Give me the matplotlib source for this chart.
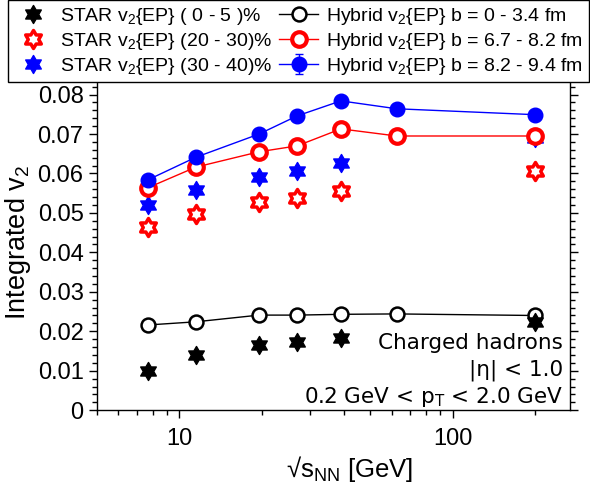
import numpy as np
import matplotlib
matplotlib.use("Agg")
import matplotlib.pyplot as plt
from matplotlib.path import Path

plt.rcParams['font.family'] = ['Liberation Sans', 'DejaVu Sans']
plt.rcParams['mathtext.fontset'] = 'custom'
plt.rcParams['mathtext.rm'] = 'Liberation Sans'
plt.rcParams['mathtext.it'] = 'Liberation Sans'

# --- data ---
energy_star = [7.7, 11.5, 19.6, 27, 39, 200]
energy_hyb = [7.7, 11.5, 19.6, 27, 39, 62.4, 200]

star_0_5 = [0.0100, 0.0141, 0.0164, 0.0174, 0.0182, 0.0224]
star_20_30 = [0.0464, 0.0497, 0.0527, 0.0537, 0.0555, 0.0607]
star_30_40 = [0.0520, 0.0558, 0.0590, 0.0607, 0.0626, 0.0690]

hyb_b0 = [0.0216, 0.0224, 0.0241, 0.0241, 0.0243, 0.0244, 0.0240]
hyb_b67 = [0.0564, 0.0616, 0.0655, 0.0670, 0.0713, 0.0695, 0.0695]
hyb_b82 = [0.0584, 0.0641, 0.0700, 0.0746, 0.0784, 0.0764, 0.0749]
hyb_b82_err = [0, 0, 0, 0, 0, 0, 0.0012]

# six-pointed star marker (hexagram)
ang = np.pi / 2 + np.arange(12) * np.pi / 6
rad = np.where(np.arange(12) % 2 == 0, 1.0, 0.58)
verts = np.column_stack([rad * np.cos(ang), rad * np.sin(ang)])
verts = np.vstack([verts, verts[:1]])
hexagram = Path(verts, closed=True)

fig = plt.figure(figsize=(5.9, 4.86), dpi=100)
ax = fig.add_axes([0.164, 0.156, 0.802, 0.69])

# STAR data
s1, = ax.plot(energy_star, star_0_5, ls='none', marker=hexagram, ms=13, color='black',
              mfc='black', mew=1, zorder=4)
s2, = ax.plot(energy_star, star_20_30, ls='none', marker=hexagram, ms=13, color='red',
              mfc='white', mew=2.5, zorder=4)
s3, = ax.plot(energy_star, star_30_40, ls='none', marker=hexagram, ms=13, color='blue',
              mfc='blue', mew=1, zorder=2)

# hybrid model curves
h1, = ax.plot(energy_hyb, hyb_b0, '-o', color='black', lw=1, ms=10, mfc='white', mew=1.8,
              zorder=3)
h2, = ax.plot(energy_hyb, hyb_b67, '-o', color='red', lw=1, ms=10.5, mfc='white', mew=3,
              zorder=3)
h3 = ax.errorbar(energy_hyb, hyb_b82, yerr=hyb_b82_err, fmt='-o', color='blue', lw=1,
                 ms=10.5, capsize=3, zorder=3)

ax.set_xscale('log')
ax.set_xlim(5, 268)
ax.set_ylim(0, 0.085)
ax.set_xticks([10, 100])
ax.set_xticklabels(['10', '100'])
ax.set_yticks(np.arange(0, 0.081, 0.01))
ax.set_yticklabels(['0'] + ['%.2f' % v for v in np.arange(0.01, 0.081, 0.01)])
ax.set_yticks(np.arange(0, 0.085, 0.002), minor=True)
ax.tick_params(which='both', direction='out', top=True, right=True, labelsize=17)
ax.tick_params(which='major', length=6, width=1)
ax.tick_params(which='minor', length=3.5, width=1)
ax.tick_params(axis='x', which='major', pad=7)
for s in ax.spines.values():
    s.set_linewidth(1)

ax.set_xlabel('√s$_{\\mathregular{NN}}$ [GeV]', fontsize=18.5)
ax.xaxis.set_label_coords(0.534, -0.13)
ax.set_ylabel('Integrated v$_2$', fontsize=19.5, labelpad=3)

for yy, txt in [(0.2, 'Charged hadrons'), (0.119, '|η| < 1.0'),
                (0.039, '0.2 GeV < p$_\\mathregular{T}$ < 2.0 GeV')]:
    ax.text(0.985, yy, txt, transform=ax.transAxes, ha='right', va='center',
            fontsize=15.5, family='DejaVu Sans')

handles = [s1, s2, s3, h1, h2, h3]
labels = [r'STAR v$_2${EP} ( 0 - 5 )%', r'STAR v$_2${EP} (20 - 30)%',
          r'STAR v$_2${EP} (30 - 40)%', r'Hybrid v$_2${EP} b = 0 - 3.4 fm',
          r'Hybrid v$_2${EP} b = 6.7 - 8.2 fm', r'Hybrid v$_2${EP} b = 8.2 - 9.4 fm']
leg = fig.legend(handles, labels, ncol=2, loc='upper left',
                 bbox_to_anchor=(0.0135, 1.0), fontsize=14,
                 frameon=True, fancybox=False, edgecolor='black', framealpha=1,
                 borderaxespad=0, handlelength=2.0, handletextpad=0.4,
                 columnspacing=0.35, labelspacing=0.2, borderpad=0.3)
leg.get_frame().set_linewidth(1)
leg.set_zorder(10)

fig.savefig('out.png', dpi=100)
